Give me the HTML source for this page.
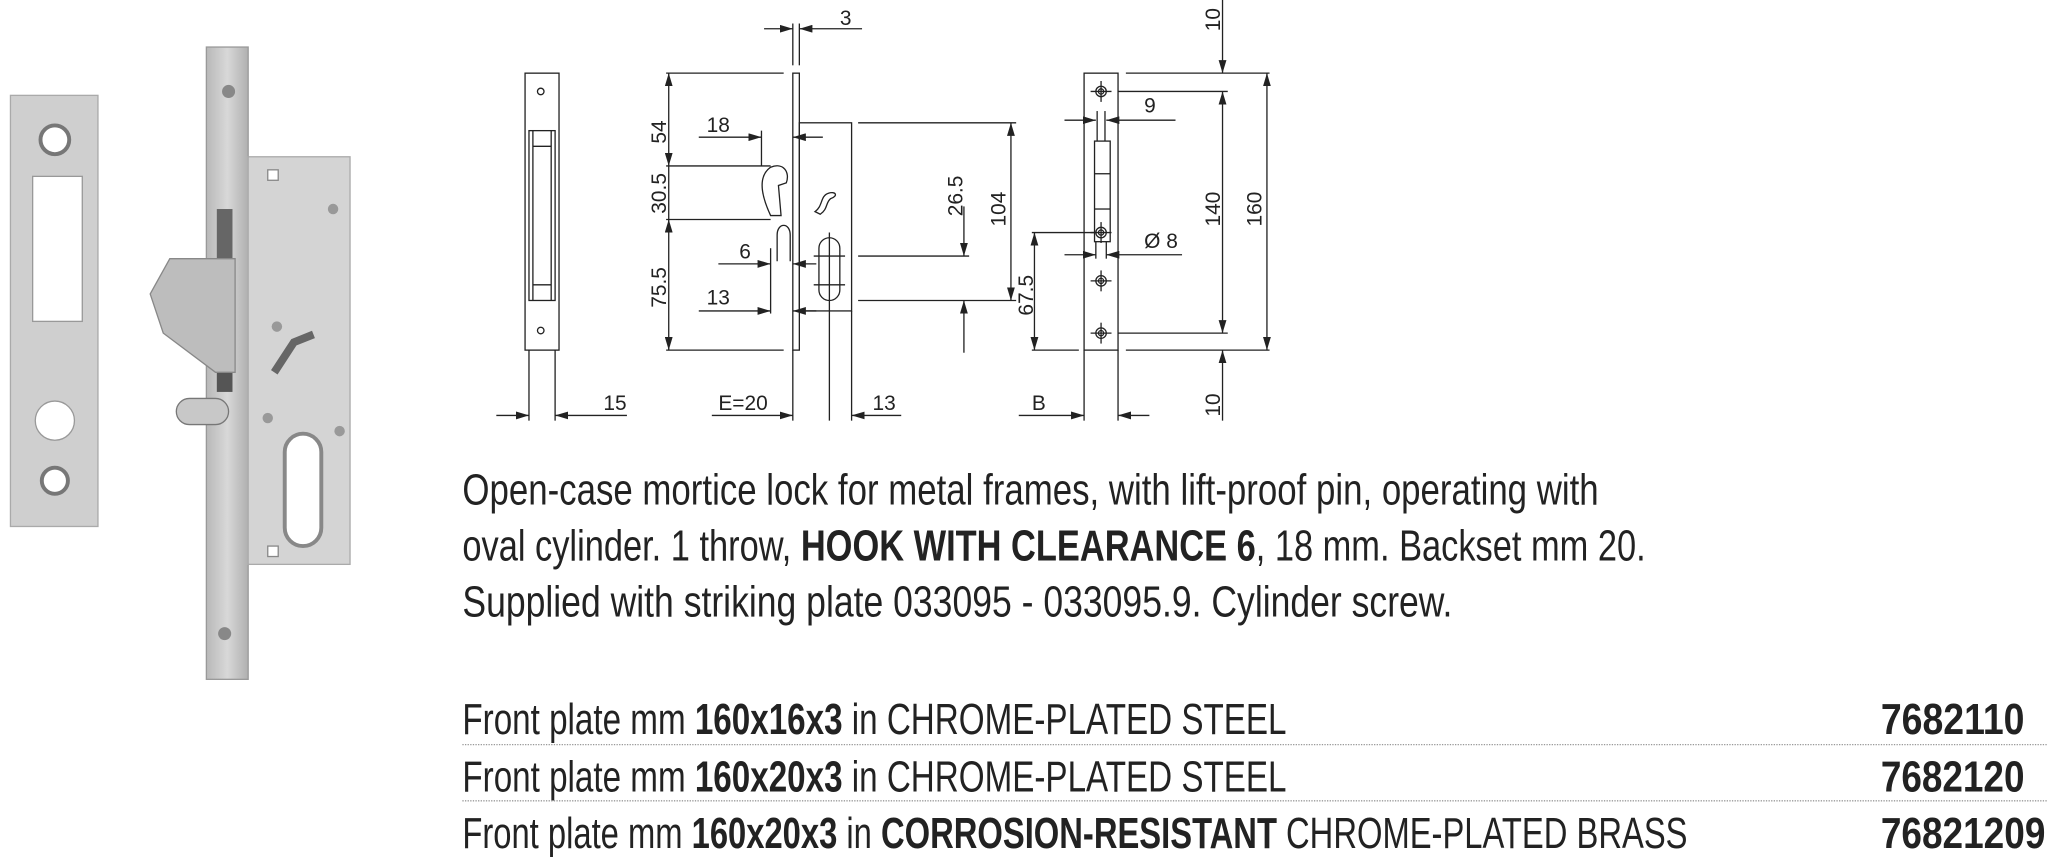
<!DOCTYPE html>
<html><head><meta charset="utf-8"><style>html,body{margin:0;padding:0;background:#fff}svg{display:block}</style></head>
<body>
<svg width="2048" height="857" viewBox="0 0 1568 656" preserveAspectRatio="none" xmlns="http://www.w3.org/2000/svg" font-family="'Liberation Sans Narrow','Liberation Sans',sans-serif">
<defs>
<marker id="a" viewBox="0 0 10 6" refX="10" refY="3" markerWidth="10" markerHeight="6" orient="auto-start-reverse" markerUnits="userSpaceOnUse"><path d="M0,0L10,3L0,6z" fill="#222"/></marker>
<linearGradient id="g" x1="0" x2="1"><stop offset="0" stop-color="#b8b8b8"/><stop offset="0.5" stop-color="#d8d8d8"/><stop offset="1" stop-color="#b0b0b0"/></linearGradient>
</defs>
<rect x="8" y="73" width="67" height="330" fill="#cfcfcf" stroke="#aaa"/>
<circle cx="42" cy="107" r="11" fill="#fff" stroke="#777" stroke-width="3"/>
<rect x="25" y="135" width="38" height="111" fill="#fff" stroke="#999"/>
<circle cx="42" cy="322" r="15" fill="#fff" stroke="#999"/>
<circle cx="42" cy="368" r="10" fill="#fff" stroke="#777" stroke-width="3"/>
<rect x="158" y="36" width="32" height="484" fill="url(#g)" stroke="#999"/>
<rect x="190" y="120" width="78" height="312" fill="#d4d4d4" stroke="#aaa"/>
<circle cx="175" cy="70" r="5" fill="#888"/>
<circle cx="172" cy="485" r="5" fill="#888"/>
<rect x="166" y="160" width="12" height="60" fill="#666"/>
<rect x="166" y="240" width="12" height="60" fill="#555"/>
<path d="M130,198 L180,198 L180,285 L165,285 L125,255 L115,225 Z" fill="#bdbdbd" stroke="#888"/>
<rect x="135" y="305" width="40" height="20" rx="10" fill="#c8c8c8" stroke="#777"/>
<path d="M210,285 L225,262 L240,256" stroke="#666" stroke-width="6" fill="none"/>
<rect x="218" y="332" width="28" height="86" rx="14" fill="#fff" stroke="#888" stroke-width="3"/>
<rect x="205" y="130" width="8" height="8" fill="#fff" stroke="#888"/>
<rect x="205" y="418" width="8" height="8" fill="#fff" stroke="#888"/>
<circle cx="255" cy="160" r="4" fill="#999"/><circle cx="260" cy="330" r="4" fill="#999"/><circle cx="205" cy="320" r="4" fill="#999"/><circle cx="212" cy="250" r="4" fill="#999"/>

<g stroke="#222" stroke-width="1" fill="none">
<rect x="402" y="56" width="26" height="212"/>
<circle cx="414" cy="70" r="2.5"/><circle cx="414" cy="253" r="2.5"/>
<rect x="405" y="100" width="20" height="130"/>
<line x1="408" y1="100" x2="408" y2="230"/><line x1="422" y1="100" x2="422" y2="230"/>
<line x1="408" y1="112" x2="422" y2="112"/><line x1="408" y1="218" x2="422" y2="218"/>
<line x1="405" y1="268" x2="405" y2="322"/><line x1="425" y1="268" x2="425" y2="322"/>
<line x1="380" y1="318" x2="405" y2="318" marker-end="url(#a)"/>
<line x1="480" y1="318" x2="425" y2="318" marker-end="url(#a)"/>

<rect x="607" y="56" width="5" height="212"/>
<rect x="612" y="94" width="40" height="144"/>
<line x1="607" y1="18" x2="607" y2="50"/><line x1="612" y1="18" x2="612" y2="50"/>
<line x1="585" y1="22" x2="607" y2="22" marker-end="url(#a)"/>
<line x1="660" y1="22" x2="612" y2="22" marker-end="url(#a)"/>
<line x1="510" y1="56" x2="600" y2="56"/><line x1="510" y1="127" x2="590" y2="127"/>
<line x1="510" y1="168" x2="590" y2="168"/><line x1="510" y1="268" x2="600" y2="268"/>
<line x1="512" y1="56" x2="512" y2="127" marker-start="url(#a)" marker-end="url(#a)"/>
<line x1="512" y1="127" x2="512" y2="168"/>
<line x1="512" y1="168" x2="512" y2="268" marker-start="url(#a)" marker-end="url(#a)"/>
<line x1="535" y1="105" x2="583" y2="105" marker-end="url(#a)"/>
<line x1="630" y1="105" x2="607" y2="105" marker-end="url(#a)"/>
<line x1="583" y1="100" x2="583" y2="127"/>
<path d="M590,165 C583,150 580,135 590,128 C600,124 605,132 602,140 L596,142 L598,165 Z"/>
<path d="M595,200 L595,180 C595,170 605,170 605,180 L605,200"/>
<line x1="590" y1="190" x2="590" y2="240"/>
<line x1="550" y1="202" x2="590" y2="202" marker-end="url(#a)"/>
<line x1="625" y1="202" x2="607" y2="202" marker-end="url(#a)"/>
<line x1="535" y1="238" x2="590" y2="238" marker-end="url(#a)"/>
<line x1="625" y1="238" x2="607" y2="238" marker-end="url(#a)"/>
<path d="M624,162 C630,158 628,150 634,148 C640,146 642,150 636,152 C632,155 634,160 628,164 Z"/>
<rect x="627" y="182" width="16" height="48" rx="8"/>
<line x1="623" y1="196" x2="647" y2="196"/><line x1="623" y1="218" x2="647" y2="218"/>
<line x1="635" y1="178" x2="635" y2="322"/>
<line x1="657" y1="94" x2="778" y2="94"/>
<line x1="657" y1="196" x2="742" y2="196"/><line x1="657" y1="230" x2="778" y2="230"/>
<line x1="738" y1="158" x2="738" y2="196" marker-end="url(#a)"/>
<line x1="738" y1="270" x2="738" y2="230" marker-end="url(#a)"/>
<line x1="774" y1="94" x2="774" y2="230" marker-start="url(#a)" marker-end="url(#a)"/>
<line x1="607" y1="268" x2="607" y2="322"/><line x1="652" y1="238" x2="652" y2="322"/>
<line x1="545" y1="318" x2="607" y2="318" marker-end="url(#a)"/>
<line x1="690" y1="318" x2="652" y2="318" marker-end="url(#a)"/>

<rect x="830" y="56" width="26" height="212"/>
<rect x="838" y="108" width="12" height="77"/>
<line x1="838" y1="133" x2="850" y2="133"/><line x1="838" y1="160" x2="850" y2="160"/>
<line x1="840" y1="85" x2="840" y2="108"/><line x1="846" y1="85" x2="846" y2="108"/>
<g>
<circle cx="843" cy="70" r="4"/><circle cx="843" cy="70" r="2"/><line x1="835" y1="70" x2="851" y2="70"/><line x1="843" y1="62" x2="843" y2="78"/>
<circle cx="843" cy="178" r="4"/><circle cx="843" cy="178" r="2"/><line x1="835" y1="178" x2="851" y2="178"/><line x1="843" y1="170" x2="843" y2="186"/>
<circle cx="843" cy="215" r="4"/><circle cx="843" cy="215" r="2"/><line x1="835" y1="215" x2="851" y2="215"/><line x1="843" y1="207" x2="843" y2="223"/>
<circle cx="843" cy="255" r="4"/><circle cx="843" cy="255" r="2"/><line x1="835" y1="255" x2="851" y2="255"/><line x1="843" y1="247" x2="843" y2="263"/>
</g>
<line x1="815" y1="92" x2="839" y2="92" marker-end="url(#a)"/>
<line x1="900" y1="92" x2="847" y2="92" marker-end="url(#a)"/>
<line x1="815" y1="195" x2="839" y2="195" marker-end="url(#a)"/>
<line x1="905" y1="195" x2="847" y2="195" marker-end="url(#a)"/>
<line x1="839" y1="185" x2="839" y2="198"/><line x1="847" y1="185" x2="847" y2="198"/>
<line x1="862" y1="56" x2="972" y2="56"/><line x1="856" y1="70" x2="940" y2="70"/>
<line x1="856" y1="255" x2="940" y2="255"/><line x1="862" y1="268" x2="972" y2="268"/>
<line x1="936" y1="0" x2="936" y2="56" marker-end="url(#a)"/>
<line x1="936" y1="70" x2="936" y2="255" marker-start="url(#a)" marker-end="url(#a)"/>
<line x1="936" y1="322" x2="936" y2="268" marker-end="url(#a)"/>
<line x1="970" y1="56" x2="970" y2="268" marker-start="url(#a)" marker-end="url(#a)"/>
<line x1="790" y1="178" x2="838" y2="178"/><line x1="790" y1="268" x2="826" y2="268"/>
<line x1="792" y1="178" x2="792" y2="268" marker-start="url(#a)" marker-end="url(#a)"/>
<line x1="830" y1="268" x2="830" y2="322"/><line x1="856" y1="268" x2="856" y2="322"/>
<line x1="780" y1="318" x2="830" y2="318" marker-end="url(#a)"/>
<line x1="880" y1="318" x2="856" y2="318" marker-end="url(#a)"/>
</g>

<g font-family="'Liberation Sans',sans-serif" font-size="16" fill="#222">
<text x="462" y="314">15</text>
<text x="643" y="19">3</text>
<text x="510" y="101" transform="rotate(-90 510 101)" text-anchor="middle">54</text>
<text x="510" y="148" transform="rotate(-90 510 148)" text-anchor="middle">30.5</text>
<text x="510" y="220" transform="rotate(-90 510 220)" text-anchor="middle">75.5</text>
<text x="541" y="101">18</text>
<text x="566" y="198">6</text>
<text x="541" y="233">13</text>
<text x="737" y="150" transform="rotate(-90 737 150)" text-anchor="middle">26.5</text>
<text x="770" y="160" transform="rotate(-90 770 160)" text-anchor="middle">104</text>
<text x="791" y="226" transform="rotate(-90 791 226)" text-anchor="middle">67.5</text>
<text x="550" y="314">E=20</text>
<text x="668" y="314">13</text>
<text x="876" y="86">9</text>
<text x="876" y="190">Ø 8</text>
<text x="934" y="15" transform="rotate(-90 934 15)" text-anchor="middle">10</text>
<text x="934" y="160" transform="rotate(-90 934 160)" text-anchor="middle">140</text>
<text x="934" y="310" transform="rotate(-90 934 310)" text-anchor="middle">10</text>
<text x="966" y="160" transform="rotate(-90 966 160)" text-anchor="middle">160</text>
<text x="790" y="314">B</text>
</g>

<g font-size="33" fill="#222">
<text x="354" y="386" textLength="870" lengthAdjust="spacingAndGlyphs">Open-case mortice lock for metal frames, with lift-proof pin, operating with</text>
<text x="354" y="429" textLength="906" lengthAdjust="spacingAndGlyphs">oval cylinder. 1 throw, <tspan font-weight="bold">HOOK WITH CLEARANCE 6</tspan>, 18 mm. Backset mm 20.</text>
<text x="354" y="472" textLength="758" lengthAdjust="spacingAndGlyphs">Supplied with striking plate 033095 - 033095.9. Cylinder screw.</text>
<text x="354" y="562" textLength="631" lengthAdjust="spacingAndGlyphs">Front plate mm <tspan font-weight="bold">160x16x3</tspan> in CHROME-PLATED STEEL</text>
<text x="354" y="606" textLength="631" lengthAdjust="spacingAndGlyphs">Front plate mm <tspan font-weight="bold">160x20x3</tspan> in CHROME-PLATED STEEL</text>
<text x="354" y="649" textLength="938" lengthAdjust="spacingAndGlyphs">Front plate mm <tspan font-weight="bold">160x20x3</tspan> in <tspan font-weight="bold">CORROSION-RESISTANT</tspan> CHROME-PLATED BRASS</text>
<text x="1440" y="562" font-weight="bold" textLength="110" lengthAdjust="spacingAndGlyphs">7682110</text>
<text x="1440" y="606" font-weight="bold" textLength="110" lengthAdjust="spacingAndGlyphs">7682120</text>
<text x="1440" y="649" font-weight="bold" textLength="126" lengthAdjust="spacingAndGlyphs">76821209</text>
</g>
<line x1="354" y1="570" x2="1568" y2="570" stroke="#999" stroke-dasharray="1 1"/>
<line x1="354" y1="613" x2="1568" y2="613" stroke="#999" stroke-dasharray="1 1"/>
</svg>
</body></html>
